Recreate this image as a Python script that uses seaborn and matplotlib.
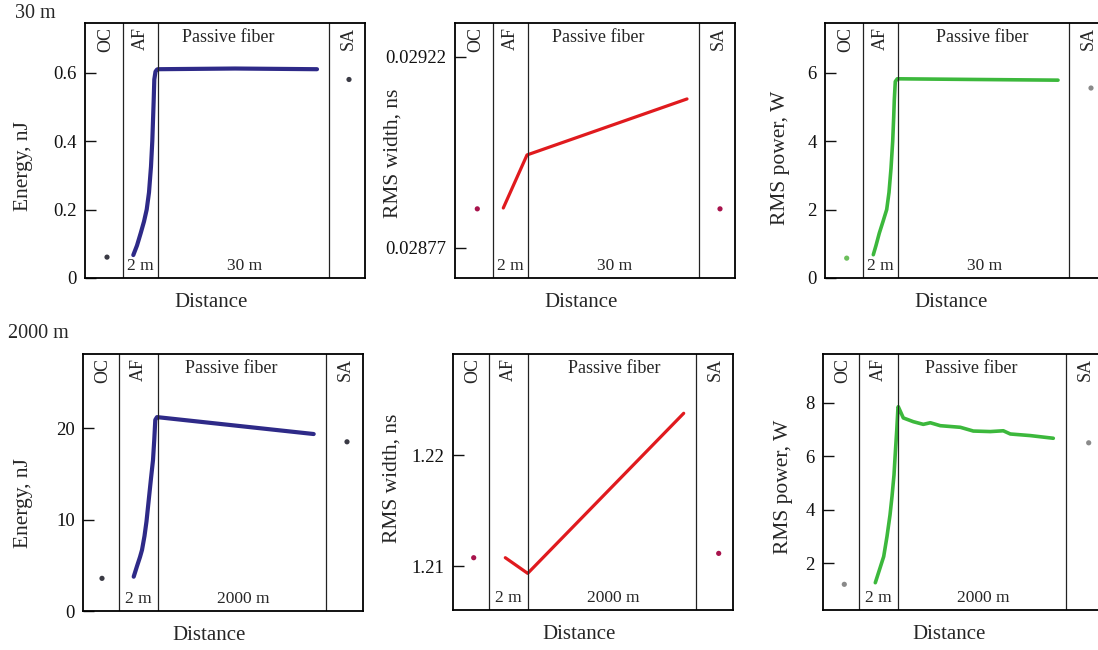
import matplotlib.pyplot as plt
import matplotlib.transforms as mtransforms
import seaborn as sns

# schematic distance axis, boundaries OC | AF | passive fiber | SA
bounds_top = [0, 38, 73, 244, 280]
bounds_bot = [0, 36, 75, 243, 280]

# --- 30 m cavity ---
e30_x = [48.3, 52, 55.7, 59, 61.7, 64, 66, 67.3, 68.7, 69.3, 70.5, 72, 73, 150, 232]
e30_y = [0.067, 0.095, 0.131, 0.165, 0.2, 0.25, 0.326, 0.4, 0.52, 0.58, 0.603, 0.609, 0.61, 0.612, 0.61]
e30_dots = [(22, 0.061), (264, 0.58)]

w30_x = [48.3, 72, 232]
w30_y = [0.028864, 0.028989, 0.029121]
w30_dots = [(22.3, 0.028862), (265, 0.028862)]

p30_x = [48.3, 51, 54.3, 58, 61.7, 64, 66, 67.7, 68.7, 69.3, 70.3, 72.3, 150, 233]
p30_y = [0.68, 0.95, 1.31, 1.65, 2.0, 2.5, 3.2, 4.0, 4.7, 5.2, 5.74, 5.82, 5.8, 5.78]
p30_dots = [(21.7, 0.58), (266, 5.55)]

# --- 2000 m cavity ---
e2k_x = [50.7, 54, 57, 59, 61.5, 63.5, 65.7, 68, 70, 71.3, 72.3, 74, 230.7]
e2k_y = [3.75, 4.9, 5.9, 6.67, 8.2, 9.8, 12.1, 14.5, 16.5, 18.8, 20.9, 21.2, 19.35]
e2k_dots = [(19, 3.57), (264, 18.5)]

w2k_x = [52.3, 74.7, 230.7]
w2k_y = [1.21075, 1.20934, 1.22376]
w2k_dots = [(20.7, 1.21075), (265.7, 1.21114)]

p2k_x = [52.3, 56, 60.7, 64, 67, 69, 71, 72.3, 73.8, 75, 75.3, 80.3, 90.3, 100.3, 107.3,
         117.3, 137.3, 150.3, 167.3, 180.3, 187.3, 207.3, 230.3]
p2k_y = [1.27, 1.7, 2.25, 3.0, 3.8, 4.49, 5.3, 6.11, 7.0, 7.83, 7.85, 7.43, 7.29, 7.19, 7.25,
         7.14, 7.08, 6.94, 6.92, 6.95, 6.83, 6.77, 6.67]
p2k_dots = [(21.3, 1.21), (265.7, 6.5)]

sns.set_theme(style="white")
plt.rcParams['font.family'] = ['Liberation Serif', 'DejaVu Serif']

W, H = 1098, 650
fig = plt.figure(figsize=(W / 100, H / 100), dpi=100)

panels = [
    # left px, top px, bottom px, x, y, dots, ylim, yticks, ticklabels, ylabel, color, dot colors,
    # bounds, fiber length, passive label x, ylabel coords, line width
    (85, 23, 278, e30_x, e30_y, e30_dots, (0, 0.745), [0, 0.2, 0.4, 0.6], ['0', '0.2', '0.4', '0.6'],
     'Energy, nJ', '#2e2a88', ['#3a3a44', '#3a3a44'], bounds_top, '30 m', 143, (-0.186, 0.44), 3.0),
    (455, 23, 278, w30_x, w30_y, w30_dots, (0.028699, 0.0293), [0.02877, 0.02922], ['0.02877', '0.02922'],
     'RMS width, ns', '#e01a1e', ['#a8134c', '#a8134c'], bounds_top, '30 m', 143, (-0.186, 0.49), 2.3),
    (825, 23, 278, p30_x, p30_y, p30_dots, (0, 7.45), [0, 2, 4, 6], ['0', '2', '4', '6'],
     'RMS power, W', '#3cb83c', ['#6cbf5c', '#8a8a8a'], bounds_top, '30 m', 157, (-0.125, 0.47), 2.6),
    (83, 354, 611, e2k_x, e2k_y, e2k_dots, (0, 28.1), [0, 10, 20], ['0', '10', '20'],
     'Energy, nJ', '#2e2a88', ['#3a3a44', '#3a3a44'], bounds_bot, '2000 m', 148, (-0.179, 0.42), 3.0),
    (453, 354, 610, w2k_x, w2k_y, w2k_dots, (1.20604, 1.2291), [1.21, 1.22], ['1.21', '1.22'],
     'RMS width, ns', '#e01a1e', ['#a8134c', '#a8134c'], bounds_bot, '2000 m', 161, (-0.182, 0.515), 2.3),
    (823, 354, 610, p2k_x, p2k_y, p2k_dots, (0.25, 9.82), [2, 4, 6, 8], ['2', '4', '6', '8'],
     'RMS power, W', '#3cb83c', ['#8a8a8a', '#8a8a8a'], bounds_bot, '2000 m', 148, (-0.107, 0.48), 2.6),
]

for (left, top, bottom, xs, ys, dots, ylim, yticks, yticklabels, ylabel, color,
     dot_colors, bounds, fiber, pf_x, lab_xy, lw) in panels:
    ax = fig.add_axes([left / W, 1 - bottom / H, 280 / W, (bottom - top) / H])
    sns.lineplot(x=xs, y=ys, ax=ax, color=color, lw=lw, sort=False, estimator=None)
    for (dx, dy), dc in zip(dots, dot_colors):
        sns.scatterplot(x=[dx], y=[dy], ax=ax, color=dc, s=14, edgecolor='none')
    for b in bounds[1:4]:
        ax.axvline(b, color='#222222', lw=0.9)
    ax.set_xlim(bounds[0], bounds[4])
    ax.set_ylim(*ylim)
    ax.set_xticks([])
    ax.set_yticks(yticks)
    ax.set_yticklabels(yticklabels)
    ax.tick_params(axis='y', direction='in', length=8, width=1, labelsize=13.5,
                   left=True, pad=6, colors='#111111')
    for sp in ax.spines.values():
        sp.set_color('black')
        sp.set_linewidth(1.3)

    trans = mtransforms.blended_transform_factory(ax.transData, ax.transAxes)
    ax.text((bounds[0] + bounds[1]) / 2 + 2, 0.985, 'OC', rotation=90, ha='center', va='top',
            fontsize=13, transform=trans)
    ax.text((bounds[1] + bounds[2]) / 2, 0.985, 'AF', rotation=90, ha='center', va='top',
            fontsize=13, transform=trans)
    ax.text(bounds[3] + 19, 0.985, 'SA', rotation=90, ha='center', va='top',
            fontsize=13, transform=trans)
    ax.text(pf_x, 0.945, 'Passive fiber', ha='center', va='center', fontsize=13, transform=trans)
    ax.text((bounds[1] + bounds[2]) / 2, 0.015, '2 m', ha='center', va='bottom',
            fontsize=12.5, transform=trans)
    ax.text(160, 0.015, fiber, ha='center', va='bottom', fontsize=12.5, transform=trans)

    ax.set_xlabel('Distance', fontsize=15)
    ax.xaxis.set_label_coords(0.45, -0.06)
    ax.set_ylabel(ylabel, fontsize=15.5)
    ax.yaxis.set_label_coords(*lab_xy)

fig.text(15 / W, 1 - 13 / H, '30 m', fontsize=14.5, ha='left', va='center')
fig.text(8 / W, 1 - 333 / H, '2000 m', fontsize=14.5, ha='left', va='center')

fig.savefig('out.png', dpi=100)
